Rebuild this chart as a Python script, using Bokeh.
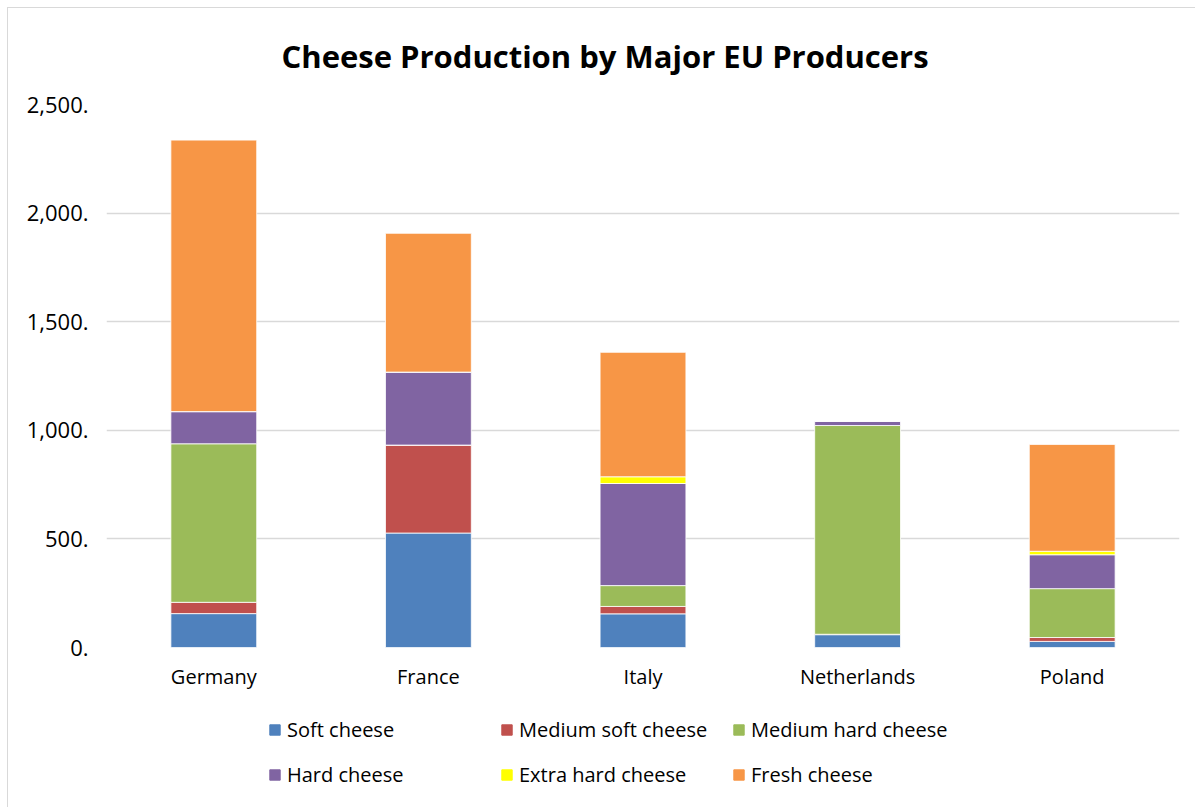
from bokeh.plotting import figure
from bokeh.layouts import column
from bokeh.models import (ColumnDataSource, Legend, LegendItem, FactorRange,
                          Range1d, FixedTicker, CustomJSTickFormatter)
from bokeh.embed import file_html
from bokeh.resources import INLINE

countries = ["Germany", "France", "Italy", "Netherlands", "Poland"]
cheese_types = ["Soft cheese", "Medium soft cheese", "Medium hard cheese",
                "Hard cheese", "Extra hard cheese", "Fresh cheese"]
soft_cheese = [156, 527, 155, 59, 28]
medium_soft_cheese = [52, 405, 34, 2, 18]
medium_hard_cheese = [730, 0, 96, 961, 225]
hard_cheese = [148, 336, 470, 20, 156]
extra_hard_cheese = [0, 0, 31, 0, 16]
fresh_cheese = [1250, 639, 573, 0, 492]
y_ticks = [0, 500, 1000, 1500, 2000, 2500]
colors = ["#4F81BD", "#C0504D", "#9BBB59", "#8064A2", "#FFFF00", "#F79646"]

keys = ["soft", "medsoft", "medhard", "hard", "extrahard", "fresh"]
source = ColumnDataSource(dict(
    country=countries,
    soft=soft_cheese, medsoft=medium_soft_cheese, medhard=medium_hard_cheese,
    hard=hard_cheese, extrahard=extra_hard_cheese, fresh=fresh_cheese,
))

FONT = "Open Sans"
BORDER = "1.5px solid #d9d9d9"

# ---- main chart ----
p = figure(x_range=FactorRange(*countries, range_padding=0),
           y_range=Range1d(0, 2500),
           width=1188, height=700,
           output_backend="svg", toolbar_location=None,
           min_border_left=98, min_border_right=17,
           min_border_top=94, min_border_bottom=61)
p.margin = (7, 0, 0, 7)
p.styles = {"border-left": BORDER, "border-top": BORDER}

p.x_range.range_padding = 0
p.x_range.factor_padding = 0

renderers = p.vbar_stack(keys, x="country", width=0.4, color=colors,
                         line_color="white", line_width=0.8, source=source)

p.title.text = "Cheese Production by Major EU Producers"
p.title.align = "left"
p.title.offset = 175
p.title.vertical_align = "top"
p.title.text_font = FONT
p.title.text_font_style = "bold"
p.title.text_font_size = "31px"
p.title.text_color = "#000000"
p.title.standoff = 52

p.outline_line_color = None
p.background_fill_color = "white"
p.border_fill_color = "white"

p.xgrid.grid_line_color = None
p.ygrid.grid_line_color = "#d9d9d9"
p.ygrid.grid_line_width = 1.6

p.yaxis.ticker = FixedTicker(ticks=y_ticks)
p.yaxis.formatter = CustomJSTickFormatter(code="return tick.toLocaleString('en-US') + '.';")
p.yaxis.axis_line_color = None
p.yaxis.major_tick_line_color = None
p.yaxis.minor_tick_line_color = None
p.yaxis.major_label_standoff = 12
p.yaxis.major_label_text_font = FONT
p.yaxis.major_label_text_font_size = "22px"
p.yaxis.major_label_text_color = "#000000"

p.xaxis.axis_line_color = None
p.xaxis.major_tick_line_color = None
p.xaxis.minor_tick_line_color = None
p.xaxis.major_label_standoff = 9
p.xaxis.major_label_text_font = FONT
p.xaxis.major_label_text_font_size = "20px"
p.xaxis.major_label_text_color = "#000000"

# ---- legend panel ----
pl = figure(width=1188, height=100, x_range=Range1d(0, 1), y_range=Range1d(0, 1),
            output_backend="svg", toolbar_location=None,
            x_axis_type=None, y_axis_type=None,
            min_border=0, min_border_left=0, min_border_right=0,
            min_border_top=0, min_border_bottom=0)
pl.margin = (0, 0, 0, 7)
pl.styles = {"border-left": BORDER}
pl.outline_line_color = None
pl.grid.visible = False

items = []
for name, c in zip(cheese_types, colors):
    r = pl.vbar(x=[-10], top=[-10], bottom=[-11], width=0.1, color=c)
    items.append(LegendItem(label=name, renderers=[r]))

legend = Legend(items=items, orientation="horizontal", nrows=2,
                location=(162, 10),
                glyph_width=13, glyph_height=13, label_standoff=6,
                label_width=213, label_height=45, spacing=0,
                padding=0, margin=0,
                border_line_color=None, background_fill_alpha=0,
                label_text_font=FONT, label_text_font_size="20px",
                label_text_color="#000000")
pl.add_layout(legend, "center")

layout = column(p, pl, spacing=0)
open("out.html", "w").write(file_html(layout, INLINE))
